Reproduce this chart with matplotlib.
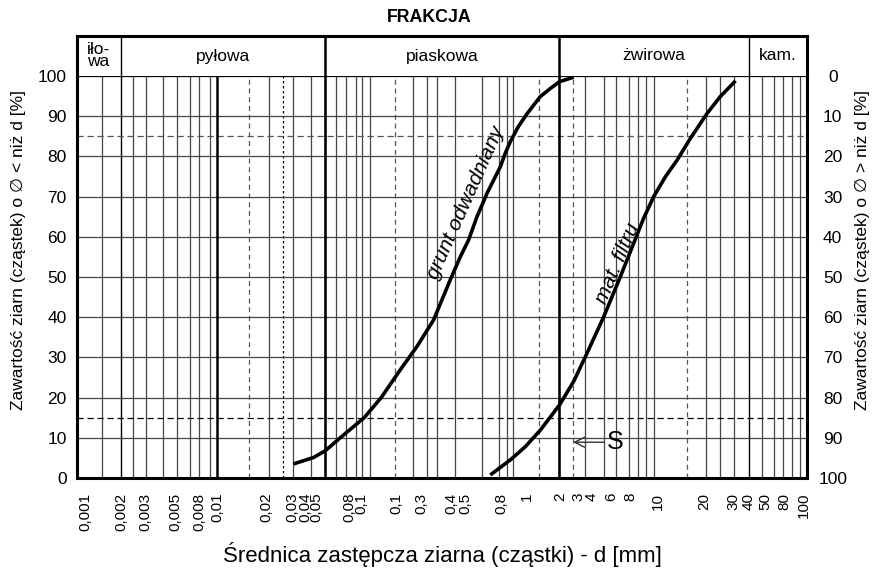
import numpy as np
import matplotlib.pyplot as plt

plt.rcParams['font.family'] = ['Liberation Sans', 'DejaVu Sans']

# krzywa "grunt odwadniany" - srednica d [mm] i zawartosc [%]
grunt_d = [0.0304, 0.0417, 0.0503, 0.0635, 0.0927, 0.1212, 0.1636, 0.213, 0.2768,
           0.3602, 0.4218, 0.4808, 0.5491, 0.6429, 0.793, 0.858, 0.93, 1.053, 1.2085,
           1.4911, 1.746, 2.021, 2.521]
grunt_p = [3.5, 5.1, 6.8, 10.0, 15.0, 20.0, 26.9, 32.7, 39.3,
           49.3, 55.0, 59.2, 65.0, 70.8, 77.4, 80.8, 83.7, 87.4, 90.6,
           94.9, 96.9, 98.6, 99.7]

# krzywa "mat. filtru"
filtr_d = [0.677, 0.929, 1.177, 1.49, 2.02, 2.52, 3.11, 4.05, 5.27, 6.50, 7.58, 8.91,
           10.7, 12.9, 15.9, 20.7, 25.5, 32.4]
filtr_p = [0.75, 4.5, 7.8, 11.9, 18.2, 24.0, 31.0, 40.1, 50.1, 58.4, 64.5, 70.0,
           74.9, 79.1, 84.5, 90.7, 94.9, 98.8]

# linie siatki pionowej [mm]
siatka_cienka = [0.00148, 0.00243, 0.00297, 0.00387, 0.00487, 0.00595, 0.00689, 0.00816,
                 0.0208, 0.0302, 0.0403, 0.0598, 0.0698, 0.0817, 0.0902, 0.1008,
                 0.1993, 0.2493, 0.2921, 0.3868, 0.597, 0.772, 0.886, 0.9736,
                 3.009, 4.049, 4.947, 6.006, 6.946, 7.906, 8.913,
                 20.31, 25.41, 31.5, 49.3, 59.2, 69.0, 78.5, 89.0]
granice_frakcji = [0.002, 0.05, 2, 40]
siatka_gruba = [0.0091, 0.05, 2]
siatka_przerywana = [0.0151, 0.151, 1.467, 2.482, 15.0]
siatka_kropkowana = [0.0256]

# frakcje w naglowku
frakcje = ['iło-\nwa', 'pyłowa', 'piaskowa', 'żwirowa', 'kam.']
frakcje_od = [0.001, 0.002, 0.05, 2, 40]
frakcje_do = [0.002, 0.05, 2, 40, 100]

# opisy osi x (polozenia)
opisy_x = ['0,001', '0,002', '0,003', '0,005', '0,008', '0,01', '0,02', '0,03', '0,04',
           '0,05', '0,08', '0,1', '0,1', '0,3', '0,4', '0,5', '0,8', '1', '2', '3', '4',
           '6', '8', '10', '20', '30', '40', '50', '80', '100']
opisy_x_poz = [0.00114, 0.002, 0.00295, 0.0047, 0.0069, 0.0092, 0.0199, 0.030, 0.0365,
               0.0438, 0.0738, 0.0884, 0.155, 0.23, 0.369, 0.456, 0.805, 1.21, 2.04,
               2.73, 3.37, 4.55, 6.17, 9.49, 19.8, 31.5, 39.9, 51.9, 70.1, 95.1]

procenty = [0, 10, 20, 30, 40, 50, 60, 70, 80, 90, 100]
procenty_prawe = ['100', '90', '80', '70', '60', '50', '40', '30', '20', '10', '0']

fig = plt.figure(figsize=(8.77, 5.74), dpi=100)
ax = fig.add_axes([77/877, 96/574, 730/877, 402/574])
ax.set_xscale('log')
ax.set_xlim(0.001, 100)
ax.set_ylim(0, 100)

# siatka
for d in siatka_cienka:
    ax.axvline(d, color='#444444', lw=0.9, zorder=1)
for d in granice_frakcji:
    ax.axvline(d, color='black', lw=1.0, zorder=1)
for d in siatka_gruba:
    ax.axvline(d, color='black', lw=1.8, zorder=2)
for d in siatka_przerywana:
    ax.axvline(d, color='#555555', lw=0.9, ls=(0, (4, 3)), zorder=1)
for d in siatka_kropkowana:
    ax.axvline(d, color='black', lw=0.9, ls=(0, (2, 2)), zorder=1)
for p in procenty[1:-1]:
    ax.axhline(p, color='#444444', lw=0.9, zorder=1)
ax.axhline(85, color='#555555', lw=0.9, ls=(0, (5, 3)), zorder=1)
ax.axhline(15, color='black', lw=0.9, ls=(0, (5, 3)), zorder=1)

# krzywe
ax.plot(grunt_d, grunt_p, color='black', lw=2.6, solid_capstyle='butt',
        solid_joinstyle='round', zorder=3)
ax.plot(filtr_d, filtr_p, color='black', lw=2.6, solid_capstyle='butt',
        solid_joinstyle='round', zorder=3)

ax.text(0.46, 68.5, 'grunt odwadniany', rotation=66, style='italic', fontsize=15,
        ha='center', va='center', zorder=4)
ax.text(5.07, 53.4, 'mat. filtru', rotation=67, style='italic', fontsize=15,
        ha='center', va='center', zorder=4)
ax.annotate('S', xy=(2.5, 8.9), xytext=(4.25, 8.9), fontsize=18, ha='left', va='center',
            arrowprops=dict(arrowstyle='->', color='#333333', lw=1.0, shrinkA=0, shrinkB=0))

# osie
ax.xaxis.set_minor_locator(plt.NullLocator())
ax.set_xticks(opisy_x_poz)
ax.set_xticklabels(opisy_x, rotation=90, fontsize=11)
ax.set_yticks(procenty)
ax.set_yticklabels([str(p) for p in procenty], fontsize=12.5)
ax.tick_params(axis='x', length=0, pad=10.5)
ax.tick_params(axis='y', length=0, pad=7.5)
for s in ['left', 'right', 'bottom']:
    ax.spines[s].set_linewidth(2.2)
ax.spines['top'].set_linewidth(0.9)

ax2 = ax.twinx()
ax2.set_ylim(0, 100)
ax2.set_yticks(procenty)
ax2.set_yticklabels(procenty_prawe, fontsize=12.5)
ax2.tick_params(axis='y', length=0, pad=18.5)
for lab in ax2.get_yticklabels():
    lab.set_horizontalalignment('center')
for s in ax2.spines.values():
    s.set_visible(False)

ax.set_xlabel('Średnica zastępcza ziarna (cząstki) - d [mm]', fontsize=16, labelpad=8)

# naglowek z frakcjami
hax = fig.add_axes([77/877, 1-76/574, 730/877, 40/574])
hax.set_xscale('log')
hax.set_xlim(0.001, 100)
hax.set_ylim(0, 1)
hax.set_xticks([])
hax.set_yticks([])
hax.xaxis.set_minor_locator(plt.NullLocator())
for d in granice_frakcji:
    lw = 1.8 if d in siatka_gruba else 1.0
    hax.axvline(d, color='black', lw=lw)
for nazwa, a, b in zip(frakcje, frakcje_od, frakcje_do):
    hax.text(np.sqrt(a*b), 0.5, nazwa, ha='center', va='center', fontsize=12.5,
             linespacing=0.75, multialignment='left')
for s in ['left', 'right', 'top']:
    hax.spines[s].set_linewidth(2.2)
hax.spines['bottom'].set_visible(False)

fig.text(429/877, 1-18/574, 'FRAKCJA', fontsize=12.8, fontweight='bold', ha='center', va='center')
fig.text(18/877, 1-250/574, 'Zawartość ziarn (cząstek) o ∅ < niż d [%]', rotation=90,
         fontsize=12.5, ha='center', va='center')
fig.text(862/877, 1-250/574, 'Zawartość ziarn (cząstek) o ∅ > niż d [%]', rotation=90,
         fontsize=12.5, ha='center', va='center')

fig.savefig('out.png', dpi=100)
